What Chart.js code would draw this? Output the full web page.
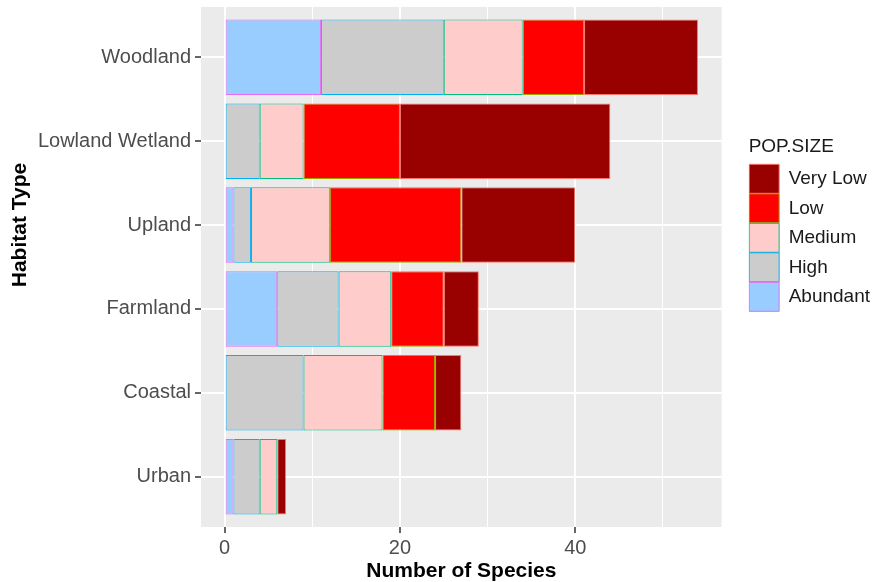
<!DOCTYPE html>
<html>
<head>
<meta charset="utf-8">
<title>Species by habitat type</title>
<script src="https://cdn.jsdelivr.net/npm/chart.js@4.4.1/dist/chart.umd.min.js"></script>
<style>
  body { margin: 0; background: #fff; }
  #wrap { width: 880px; height: 582px; }
</style>
</head>
<body>
<div id="wrap"><canvas id="habChart" width="880" height="582"></canvas></div>
<script>
// species counts per habitat, split by population size
const habitats = ['Woodland', 'Lowland Wetland', 'Upland', 'Farmland', 'Coastal', 'Urban'];
const abundant = [11, 0, 1, 6, 0, 1];
const high     = [14, 4, 2, 7, 9, 3];
const medium   = [9, 5, 9, 6, 9, 2];
const low      = [7, 11, 15, 6, 6, 0];
const veryLow  = [13, 24, 13, 4, 3, 1];
const popSizes = ['Abundant', 'High', 'Medium', 'Low', 'Very Low'];
const xTicks = [0, 10, 20, 30, 40, 50];
const xLabels = [0, 20, 40];

const series = [abundant, high, medium, low, veryLow];
const fills = ['#99CCFF', '#CCCCCC', '#FFCCCC', '#FF0000', '#990000'];
const outlines = ['#E76BF3', '#00B0F6', '#00BF7D', '#A3A500', '#F8766D'];

Chart.defaults.font.family = "'Liberation Sans', Arial, sans-serif";

// grey panel behind the grid lines (ggplot look)
const panelBg = {
  id: 'panelBg',
  beforeDraw(chart) {
    const a = chart.chartArea;
    const c = chart.ctx;
    c.save();
    c.fillStyle = '#EBEBEB';
    c.fillRect(a.left, a.top, a.right - a.left, a.bottom - a.top);
    c.restore();
  }
};

// y title sits a bit above the middle in the original, so draw it by hand
const yTitle = {
  id: 'yTitle',
  afterDraw(chart) {
    const c = chart.ctx;
    c.save();
    c.translate(20, 225);
    c.rotate(-Math.PI / 2);
    c.font = "bold 21px 'Liberation Sans', Arial, sans-serif";
    c.fillStyle = '#000';
    c.textAlign = 'center';
    c.textBaseline = 'middle';
    c.fillText('Habitat Type', 0, 0);
    c.restore();
  }
};

const datasets = series.map((vals, k) => ({
  label: popSizes[k],
  data: vals.map((v, i) => ({x: v, y: i})),
  backgroundColor: fills[k],
  borderColor: outlines[k],
  borderWidth: 1,
  borderSkipped: false,
  inflateAmount: 0,
  categoryPercentage: 1,
  barPercentage: 0.9
}));

const isMajor = c => c.tick && xLabels.includes(c.tick.value);

new Chart('habChart', {
  type: 'bar',
  data: { datasets: datasets },
  options: {
    indexAxis: 'y',
    responsive: false,
    animation: false,
    events: [],
    layout: { padding: { top: 7, right: 0, bottom: 0, left: 0 } },
    scales: {
      x: {
        type: 'linear',
        stacked: true,
        min: -2.7,
        max: 56.7,
        afterBuildTicks: s => { s.ticks = xTicks.map(v => ({value: v})); },
        afterFit: s => { s.height = 55; },
        grid: {
          color: '#FFFFFF',
          lineWidth: c => isMajor(c) ? 2 : 1,
          tickColor: c => isMajor(c) ? '#333333' : 'rgba(0,0,0,0)',
          tickLength: 6,
          tickWidth: 1.5
        },
        border: { display: false },
        ticks: {
          padding: 3,
          color: '#4D4D4D',
          font: { size: 20 },
          callback: v => xLabels.includes(v) ? String(v) : ''
        },
        title: {
          display: true,
          text: 'Number of Species',
          color: '#000',
          font: { size: 21, weight: 'bold', lineHeight: 1 },
          padding: 0
        }
      },
      y: {
        type: 'linear',
        stacked: true,
        reverse: true,
        offset: false,
        min: -0.6,
        max: 5.6,
        afterBuildTicks: s => { s.ticks = habitats.map((h, i) => ({value: i})); },
        afterFit: s => { s.width = 201; s.paddingTop = 0; s.paddingBottom = 0; },
        grid: { offset: false, color: '#FFFFFF', lineWidth: 2, tickColor: '#333333', tickLength: 6, tickWidth: 1.5 },
        border: { display: false },
        ticks: {
          padding: 4,
          color: '#4D4D4D',
          font: { size: 20 },
          callback: v => habitats[v]
        }
      },
      // empty axis, only keeps a gap between panel and legend
      gap: {
        type: 'linear',
        position: 'right',
        display: true,
        min: 0,
        max: 1,
        grid: { display: false },
        ticks: { display: false },
        border: { display: false },
        afterFit: s => { s.width = 27; }
      }
    },
    plugins: {
      tooltip: { enabled: false },
      legend: {
        position: 'right',
        align: 'start',
        reverse: true,
        title: {
          display: true,
          text: 'POP.SIZE',
          position: 'start',
          color: '#1A1A1A',
          font: { size: 19 },
          padding: { top: 130, bottom: 4 }
        },
        labels: {
          boxWidth: 30,
          boxHeight: 29,
          padding: 0.5,
          color: '#1A1A1A',
          font: { size: 19 }
        }
      }
    }
  },
  plugins: [panelBg, yTitle]
});
</script>
</body>
</html>
